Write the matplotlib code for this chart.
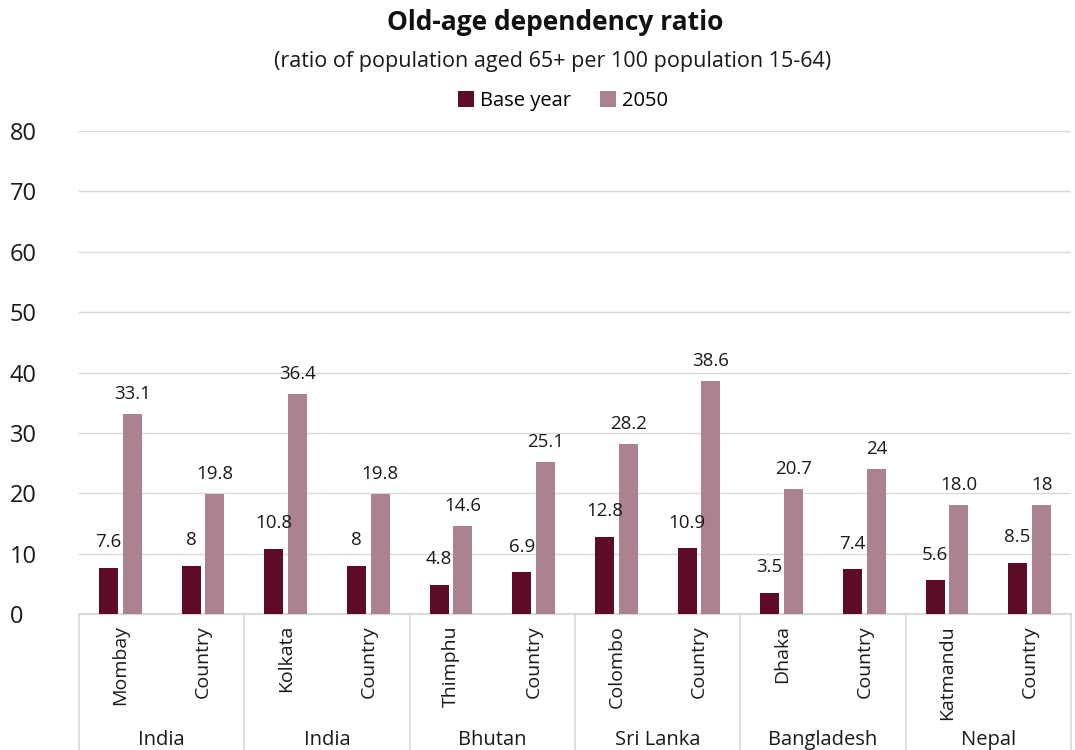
import matplotlib
matplotlib.use('Agg')
import matplotlib.pyplot as plt
import matplotlib.transforms as mtransforms

plt.rcParams['font.family'] = ['Open Sans', 'DejaVu Sans']

# data
countries = ['India', 'India', 'Bhutan', 'Sri Lanka', 'Bangladesh', 'Nepal']
places = ['Mombay', 'Country', 'Kolkata', 'Country', 'Thimphu', 'Country',
          'Colombo', 'Country', 'Dhaka', 'Country', 'Katmandu', 'Country']
base_year = [7.6, 8, 10.8, 8, 4.8, 6.9, 12.8, 10.9, 3.5, 7.4, 5.6, 8.5]
year_2050 = [33.1, 19.8, 36.4, 19.8, 14.6, 25.1, 28.2, 38.6, 20.7, 24, 18.0, 18]
base_labels = ['7.6', '8', '10.8', '8', '4.8', '6.9', '12.8', '10.9', '3.5', '7.4', '5.6', '8.5']
labels_2050 = ['33.1', '19.8', '36.4', '19.8', '14.6', '25.1', '28.2', '38.6', '20.7', '24', '18.0', '18']

dark = '#5E0B27'
light = '#AD8290'
grid_col = '#D9D9D9'

fig = plt.figure(figsize=(10.75, 7.5), dpi=100)
ax = fig.add_axes([79 / 1075, 1 - 614 / 750, (1071 - 79) / 1075, (614 - 131) / 750])

x = list(range(len(places)))
w = 0.23
off = 0.145
b1 = ax.bar([i - off for i in x], base_year, w, color=dark, label='Base year', zorder=3)
b2 = ax.bar([i + off for i in x], year_2050, w, color=light, label='2050', zorder=3)

for bar, txt in zip(b1, base_labels):
    ax.annotate(txt, (bar.get_x() + bar.get_width() / 2, bar.get_height()),
                xytext=(0, 12), textcoords='offset points', ha='center', va='bottom',
                fontsize=13.5, color='#1a1a1a')
for bar, txt in zip(b2, labels_2050):
    ax.annotate(txt, (bar.get_x() + bar.get_width() / 2, bar.get_height()),
                xytext=(0, 8), textcoords='offset points', ha='center', va='bottom',
                fontsize=13.5, color='#1a1a1a')

ax.set_xlim(-0.5, 11.5)
ax.set_ylim(0, 80)
ax.set_yticks(range(0, 81, 10))
ax.yaxis.grid(True, color=grid_col, linewidth=1)
ax.set_axisbelow(True)
for s in ['top', 'right', 'left']:
    ax.spines[s].set_visible(False)
ax.spines['bottom'].set_color(grid_col)
ax.spines['bottom'].set_linewidth(1.5)
ax.tick_params(axis='y', length=0, pad=50, labelsize=17, labelcolor='#1a1a1a')
for lbl in ax.get_yticklabels():
    lbl.set_horizontalalignment('left')

ax.set_xticks(x)
ax.set_xticklabels(places, rotation=90, fontsize=14, color='#1a1a1a', va='top')
ax.tick_params(axis='x', length=0, pad=8)

# group separators and country labels
trans = mtransforms.blended_transform_factory(ax.transData, ax.transAxes)
bottom = -(750 - 614) / (614 - 131)
for k in range(len(countries) + 1):
    xs = -0.5 + 2 * k
    ax.plot([xs, xs], [0, bottom], transform=trans, color=grid_col, lw=1.2, clip_on=False)
for k, c in enumerate(countries):
    ax.text(0.5 + 2 * k, -(740 - 614) / (614 - 131), c, transform=trans,
            ha='center', va='center', fontsize=14.5, color='#1a1a1a')

fig.text(555 / 1075, 1 - 23 / 750, 'Old-age dependency ratio', ha='center', va='center',
         fontsize=19, fontweight='bold', color='#111111')
fig.text(553 / 1075, 1 - 62 / 750, '(ratio of population aged 65+ per 100 population 15-64)',
         ha='center', va='center', fontsize=15.5, color='#1a1a1a')
fig.legend(handles=[b1, b2], loc='center', bbox_to_anchor=(563 / 1075, 1 - 101 / 750), ncol=2,
           frameon=False, fontsize=14.5, handlelength=0.8, handleheight=0.8,
           handletextpad=0.3, columnspacing=1.4)

fig.savefig('out.png', dpi=100)
